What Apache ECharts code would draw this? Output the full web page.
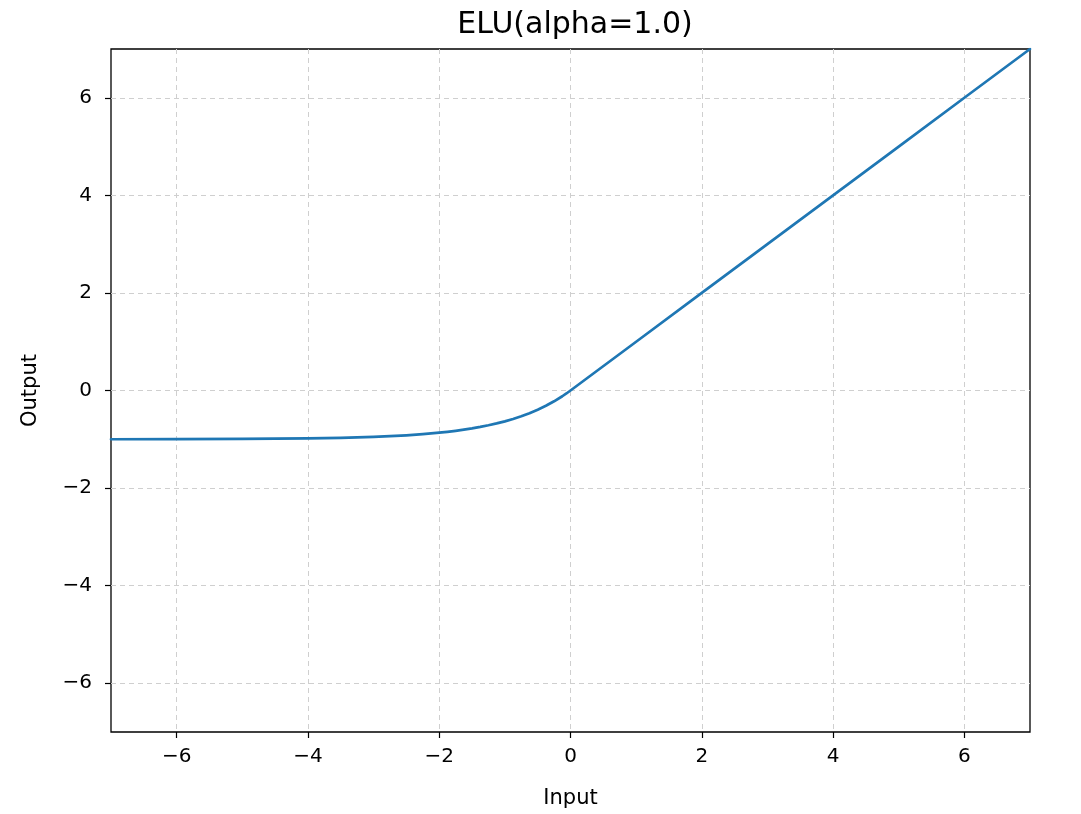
<!DOCTYPE html>
<html>
<head>
<meta charset="utf-8">
<script src="https://cdn.jsdelivr.net/npm/echarts@6/dist/echarts.min.js"></script>
<style>html,body{margin:0;padding:0;background:#fff}#c{width:1081px;height:814px}</style>
</head>
<body>
<div id="c"></div>
<script>
const titleText = 'ELU(alpha=1.0)';
const xLabel = 'Input';
const yLabel = 'Output';
const xTicks = [-6, -4, -2, 0, 2, 4, 6];
const yTicks = [-6, -4, -2, 0, 2, 4, 6];
const inputX = [-7, -6, -5, -4, -3.5, -3, -2.75, -2.5, -2.25, -2, -1.875, -1.75, -1.625, -1.5, -1.375, -1.25, -1.125, -1, -0.875, -0.75, -0.625, -0.5, -0.375, -0.25, -0.125, -0.0625, 0, 1, 2, 3, 4, 5, 6, 7];
const outputY = [-0.999, -0.998, -0.993, -0.982, -0.970, -0.950, -0.936, -0.918, -0.895, -0.865, -0.847, -0.826, -0.803, -0.777, -0.747, -0.713, -0.675, -0.632, -0.583, -0.528, -0.465, -0.393, -0.313, -0.221, -0.118, -0.061, 0, 1, 2, 3, 4, 5, 6, 7];

const fmt = v => String(v).replace('-', '\u2212');
const font = 'DejaVu Sans';
const chart = echarts.init(document.getElementById('c'), null, {renderer: 'canvas'});
const gridStyle = {show: true, lineStyle: {color: '#cfcfcf', type: [5, 4], width: 1}};
chart.setOption({
  animation: false,
  backgroundColor: '#fff',
  title: {text: titleText, left: 570, top: 5, textAlign: 'center',
    textStyle: {fontFamily: font, fontSize: 30, fontWeight: 'normal', color: '#000'}},
  grid: {left: 111, top: 49, width: 919, height: 684, show: true, borderColor: '#000', borderWidth: 1.3, backgroundColor: 'transparent'},
  xAxis: {
    type: 'value', min: -7, max: 7,
    name: xLabel, nameLocation: 'middle', nameGap: 56,
    nameTextStyle: {fontFamily: font, fontSize: 21, color: '#000'},
    axisLine: {show: false, onZero: false},
    axisTick: {show: true, length: 6, inside: false, customValues: xTicks, lineStyle: {color: '#000', width: 1.2}},
    axisLabel: {customValues: xTicks, formatter: fmt, fontFamily: font, fontSize: 20, color: '#000', margin: 15},
    splitLine: gridStyle
  },
  yAxis: {
    type: 'value', min: -7, max: 7,
    name: yLabel, nameLocation: 'middle', nameGap: 70, nameRotate: 90,
    nameTextStyle: {fontFamily: font, fontSize: 21, color: '#000'},
    axisLine: {show: false, onZero: false},
    axisTick: {show: true, length: 6, inside: false, customValues: yTicks, lineStyle: {color: '#000', width: 1.2}},
    axisLabel: {customValues: yTicks, formatter: fmt, fontFamily: font, fontSize: 20, color: '#000', margin: 19},
    splitLine: gridStyle
  },
  series: [{
    type: 'line',
    data: inputX.map((x, i) => [x, outputY[i]]),
    showSymbol: false,
    smooth: false,
    clip: true,
    lineStyle: {color: '#1f77b4', width: 2.7, join: 'round', cap: 'round'},
    z: 5
  }]
});
</script>
</body>
</html>
